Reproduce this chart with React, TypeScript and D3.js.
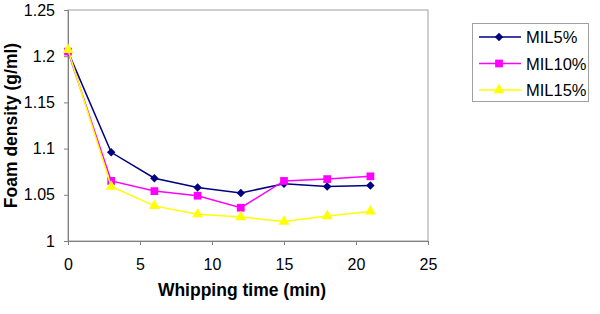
import * as d3 from 'd3';
import { useEffect, useRef } from 'react';

// Whipping time (min)
const times = [0, 3, 6, 9, 12, 15, 18, 21];

// Foam density (g/ml)
const mil5 = [1.205, 1.096, 1.068, 1.058, 1.052, 1.062, 1.059, 1.060];
const mil10 = [1.205, 1.065, 1.054, 1.049, 1.036, 1.065, 1.067, 1.070];
const mil15 = [1.207, 1.059, 1.038, 1.029, 1.026, 1.021, 1.027, 1.032];

const seriesNames = ['MIL5%', 'MIL10%', 'MIL15%'];
const xTicks = [0, 5, 10, 15, 20, 25];
const yTicks = [1, 1.05, 1.1, 1.15, 1.2, 1.25];

const width = 600;
const height = 314;
const font = 'Arial, "Liberation Sans", sans-serif';

export default function App() {
  const svgRef = useRef<SVGSVGElement>(null);

  useEffect(() => {
    if (!svgRef.current) return;
    const svg = d3.select(svgRef.current);
    svg.selectAll('*').remove();

    const left = 68, top = 10, right = 428, bottom = 241;

    const x = d3.scaleLinear().domain([0, 25]).range([left, right]);
    const y = d3.scaleLinear().domain([1, 1.25]).range([bottom, top]);

    // Plot frame
    svg.append('rect')
      .attr('x', left).attr('y', top)
      .attr('width', right - left).attr('height', bottom - top)
      .attr('fill', 'white')
      .attr('stroke', '#a0a0a0')
      .attr('stroke-width', 1);

    // Axes
    const xAxis = svg.append('g')
      .attr('transform', `translate(0,${bottom})`)
      .call(d3.axisBottom(x).tickValues(xTicks).tickSize(4).tickSizeOuter(0).tickPadding(14));
    const yAxis = svg.append('g')
      .attr('transform', `translate(${left},0)`)
      .call(d3.axisLeft(y).tickValues(yTicks).tickSize(4).tickSizeOuter(0).tickPadding(9)
        .tickFormat(d => d3.format('')(+d)));

    [xAxis, yAxis].forEach(a => {
      a.select('.domain').attr('stroke', '#808080');
      a.selectAll('.tick line').attr('stroke', '#808080');
      a.selectAll('text')
        .attr('fill', '#000')
        .style('font-family', font)
        .style('font-size', '16px');
    });

    // diamond = square turned 45 degrees
    const series = [
      { name: seriesNames[0], values: mil5, color: '#000080', shape: d3.symbolSquare, size: 36, rot: 45 },
      { name: seriesNames[1], values: mil10, color: '#ff00ff', shape: d3.symbolSquare, size: 60, rot: 0 },
      { name: seriesNames[2], values: mil15, color: '#ffff00', shape: d3.symbolTriangle, size: 52, rot: 0 },
    ];

    const line = d3.line<number>()
      .x((_, i) => x(times[i]))
      .y(d => y(d));

    series.forEach(s => {
      svg.append('path')
        .datum(s.values)
        .attr('fill', 'none')
        .attr('stroke', s.color)
        .attr('stroke-width', 1.5)
        .attr('d', line);
      svg.selectAll(null)
        .data(s.values)
        .enter()
        .append('path')
        .attr('transform', (d, i) => `translate(${x(times[i])},${y(d)}) rotate(${s.rot})`)
        .attr('d', d3.symbol().type(s.shape).size(s.size)())
        .attr('fill', s.color);
    });

    // Axis titles
    svg.append('text')
      .attr('x', 242)
      .attr('y', 296)
      .attr('text-anchor', 'middle')
      .style('font-family', font)
      .style('font-size', '17.5px')
      .style('font-weight', 'bold')
      .text('Whipping time (min)');

    svg.append('text')
      .attr('transform', `translate(17,${(top + bottom) / 2}) rotate(-90)`)
      .attr('text-anchor', 'middle')
      .style('font-family', font)
      .style('font-size', '17.5px')
      .style('font-weight', 'bold')
      .text('Foam density (g/ml)');

    // Legend
    const legend = svg.append('g');
    legend.append('rect')
      .attr('x', 472.5).attr('y', 23.5)
      .attr('width', 116).attr('height', 78)
      .attr('fill', 'white')
      .attr('stroke', '#a0a0a0');

    const legendY = d3.scalePoint<string>().domain(seriesNames).range([37, 90]);
    series.forEach(s => {
      const ly = legendY(s.name) ?? 0;
      legend.append('line')
        .attr('x1', 479).attr('x2', 521)
        .attr('y1', ly).attr('y2', ly)
        .attr('stroke', s.color).attr('stroke-width', 1.5);
      legend.append('path')
        .attr('transform', `translate(499,${ly}) rotate(${s.rot})`)
        .attr('d', d3.symbol().type(s.shape).size(s.size)())
        .attr('fill', s.color);
      legend.append('text')
        .attr('x', 526).attr('y', ly + 6)
        .style('font-family', font)
        .style('font-size', '16.5px')
        .text(s.name);
    });
  }, []);

  return (
    <svg
      ref={svgRef}
      width={width}
      height={height}
      style={{ position: 'absolute', left: 0, top: 0, background: 'white' }}
    />
  );
}
